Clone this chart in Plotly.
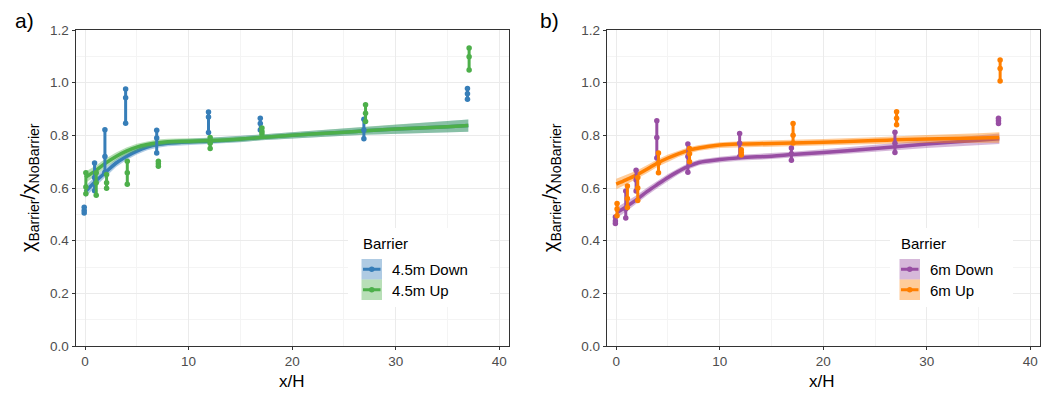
import plotly.graph_objects as go

# ---------------- data ----------------
x_pos = [0, 1, 2, 4, 7, 12, 17, 27, 37]

down45 = [[0.505, 0.515, 0.527], [0.59, 0.64, 0.695], [0.66, 0.72, 0.821],
          [0.846, 0.943, 0.976], [0.733, 0.79, 0.819], [0.811, 0.87, 0.889],
          [0.82, 0.845, 0.865], [0.787, 0.82, 0.861], [0.937, 0.958, 0.978]]
up45 = [[0.578, 0.604, 0.658], [0.572, 0.62, 0.658], [0.599, 0.62, 0.651],
        [0.614, 0.658, 0.702], [0.683, 0.692, 0.702], [0.75, 0.77, 0.792],
        [0.805, 0.815, 0.828], [0.853, 0.884, 0.916], [1.048, 1.098, 1.132]]
down6 = [[0.465, 0.475, 0.49], [0.486, 0.52, 0.589], [0.589, 0.63, 0.667],
         [0.714, 0.792, 0.855], [0.66, 0.72, 0.767], [0.72, 0.77, 0.807],
         [0.705, 0.73, 0.752], [0.735, 0.77, 0.812], [0.845, 0.855, 0.865]]
up6 = [[0.495, 0.52, 0.541], [0.526, 0.56, 0.608], [0.553, 0.6, 0.64],
       [0.658, 0.695, 0.733], [0.70, 0.73, 0.75], [0.725, 0.735, 0.745],
       [0.771, 0.80, 0.845], [0.84, 0.865, 0.89], [1.006, 1.054, 1.086]]

# smooth fits
fit_x = [0, 1, 2, 3, 4, 5, 6, 7, 8, 10, 12, 15, 17, 20, 25, 27, 30, 35, 37]
fit_down45 = [0.585, 0.625, 0.66, 0.695, 0.72, 0.74, 0.755, 0.765, 0.77, 0.775, 0.778,
              0.785, 0.792, 0.80, 0.812, 0.817, 0.824, 0.833, 0.837]
fit_up45 = [0.64, 0.665, 0.695, 0.72, 0.74, 0.755, 0.765, 0.772, 0.776, 0.778, 0.78,
            0.786, 0.792, 0.80, 0.812, 0.817, 0.824, 0.833, 0.837]
fit_down6 = [0.505, 0.53, 0.557, 0.587, 0.614, 0.64, 0.663, 0.683, 0.697, 0.708, 0.715,
             0.721, 0.727, 0.735, 0.75, 0.757, 0.767, 0.781, 0.787]
fit_up6 = [0.615, 0.632, 0.65, 0.672, 0.695, 0.714, 0.73, 0.743, 0.752, 0.763, 0.767,
           0.769, 0.771, 0.774, 0.78, 0.783, 0.786, 0.79, 0.792]
# half-width of the confidence ribbons
se_45 = [0.022, 0.019, 0.017, 0.015, 0.014, 0.013, 0.012, 0.012, 0.011, 0.011, 0.011,
         0.011, 0.011, 0.012, 0.014, 0.015, 0.017, 0.021, 0.023]
se_6 = [0.02, 0.018, 0.016, 0.015, 0.014, 0.013, 0.012, 0.012, 0.011, 0.011, 0.011,
        0.011, 0.011, 0.012, 0.013, 0.014, 0.015, 0.018, 0.02]

series_names = ["4.5m Down", "4.5m Up", "6m Down", "6m Up"]
colors = ["#377EB8", "#4DAF4A", "#984EA3", "#FF7F00"]
fills = ["rgba(55,126,184,0.4)", "rgba(77,175,74,0.4)", "rgba(152,78,163,0.4)",
         "rgba(255,127,0,0.4)"]
y_ticks = [0.0, 0.2, 0.4, 0.6, 0.8, 1.0, 1.2]
x_ticks = [0, 10, 20, 30, 40]

W, H = 1050, 402
def PX(x): return x / W
def PY(y): return 1 - y / H

fig = go.Figure()

def add_fit(xs, ys, se, col, fill, xa, ya):
    lo = [a - b for a, b in zip(ys, se)]
    hi = [a + b for a, b in zip(ys, se)]
    fig.add_trace(go.Scatter(x=xs + xs[::-1], y=hi + lo[::-1], fill="toself",
                             fillcolor=fill, line=dict(width=0), mode="lines",
                             hoverinfo="skip", showlegend=False, xaxis=xa, yaxis=ya))
    fig.add_trace(go.Scatter(x=xs, y=ys, mode="lines", line=dict(color=col, width=3.5,
                             shape="spline"), showlegend=False, xaxis=xa, yaxis=ya))

def add_points(vals, dodge, col, name, xa, ya):
    xs, ys = [], []
    for xp, trip in zip(x_pos, vals):
        for v in trip:
            xs.append(xp + dodge)
            ys.append(v)
        xs.append(None)
        ys.append(None)
    fig.add_trace(go.Scatter(x=xs, y=ys, mode="lines+markers", name=name,
                             line=dict(color=col, width=3),
                             marker=dict(color=col, size=5.5),
                             connectgaps=False, showlegend=False, xaxis=xa, yaxis=ya))

add_fit(fit_x, fit_down45, se_45, colors[0], fills[0], "x", "y")
add_fit(fit_x, fit_up45, se_45, colors[1], fills[1], "x", "y")
add_points(down45, -0.08, colors[0], series_names[0], "x", "y")
add_points(up45, 0.08, colors[1], series_names[1], "x", "y")

add_fit(fit_x, fit_down6, se_6, colors[2], fills[2], "x2", "y2")
add_fit(fit_x, fit_up6, se_6, colors[3], fills[3], "x2", "y2")
add_points(down6, -0.08, colors[2], series_names[2], "x2", "y2")
add_points(up6, 0.08, colors[3], series_names[3], "x2", "y2")

FONT = "Liberation Sans, Arial, sans-serif"
axis_common = dict(showline=True, mirror=True, linecolor="#333333", linewidth=1,
                   ticks="outside", ticklen=3, tickcolor="#333333", tickwidth=1,
                   tickfont=dict(size=13.5, color="#4D4D4D", family=FONT),
                   showgrid=True, gridcolor="#EBEBEB", gridwidth=1.1, zeroline=False,
                   automargin=False)

xr = [-0.92, 40.93]
ydom = [PY(346), PY(30)]
fig.update_layout(
    width=W, height=H, margin=dict(l=0, r=0, t=0, b=0, autoexpand=False),
    paper_bgcolor="white", plot_bgcolor="white", showlegend=False,
    font=dict(family=FONT),
    xaxis=dict(domain=[PX(75.5), PX(509)], range=xr, anchor="y", tickvals=x_ticks,
               minor=dict(tickvals=[5, 15, 25, 35], showgrid=True, gridcolor="#F4F4F4",
                          gridwidth=0.6, ticks=""), **axis_common),
    yaxis=dict(domain=ydom, range=[0, 1.2], anchor="x", tickvals=y_ticks, tickformat=".1f",
               minor=dict(tickvals=[0.1, 0.3, 0.5, 0.7, 0.9, 1.1], showgrid=True,
                          gridcolor="#F4F4F4", gridwidth=0.6, ticks=""), **axis_common),
    xaxis2=dict(domain=[PX(606.7), PX(1040)], range=xr, anchor="y2", tickvals=x_ticks,
                minor=dict(tickvals=[5, 15, 25, 35], showgrid=True, gridcolor="#F4F4F4",
                           gridwidth=0.6, ticks=""), **axis_common),
    yaxis2=dict(domain=ydom, range=[0, 1.2], anchor="x2", tickvals=y_ticks, tickformat=".1f",
                minor=dict(tickvals=[0.1, 0.3, 0.5, 0.7, 0.9, 1.1], showgrid=True,
                           gridcolor="#F4F4F4", gridwidth=0.6, ticks=""), **axis_common),
)

ann = []
shapes = []
ytitle = "χ<sub>Barrier</sub>/χ<sub>NoBarrier</sub>"

def A(text, x, y, size, xanchor="center", angle=0):
    ann.append(dict(text=text, x=PX(x), y=PY(y), xref="paper", yref="paper",
                    xanchor=xanchor, yanchor="middle", textangle=angle, showarrow=False,
                    font=dict(size=size, color="black", family=FONT)))

for lab, lx, tx, ytx in [("a)", 24, 292, 29), ("b)", 549, 822, 551)]:
    A(lab, lx, 20, 21)
    A("x/H", tx, 381, 17)
    A(ytitle, ytx, 188, 20, angle=-90)

# manual legends (ggplot style: filled ribbon key + line with point)
legends = [(348, 490, 361.5, [0, 1]), (890, 1013, 899.5, [2, 3])]
for bx0, bx1, kx, idxs in legends:
    shapes.append(dict(type="rect", xref="paper", yref="paper", x0=PX(bx0), x1=PX(bx1),
                       y0=PY(307), y1=PY(228), fillcolor="white", line=dict(width=0),
                       layer="above"))
    A("Barrier", kx - 1, 243, 15, xanchor="left")
    for j, i in enumerate(idxs):
        ty, by = 259 + 20.5 * j, 279.5 + 20.5 * j
        cy = (ty + by) / 2
        shapes.append(dict(type="rect", xref="paper", yref="paper", x0=PX(kx),
                           x1=PX(kx + 20.5), y0=PY(by), y1=PY(ty), fillcolor=fills[i],
                           line=dict(width=0), layer="above"))
        shapes.append(dict(type="line", xref="paper", yref="paper", x0=PX(kx + 1.5),
                           x1=PX(kx + 19), y0=PY(cy), y1=PY(cy),
                           line=dict(color=colors[i], width=3), layer="above"))
        shapes.append(dict(type="circle", xref="paper", yref="paper", x0=PX(kx + 7.5),
                           x1=PX(kx + 13), y0=PY(cy + 2.75), y1=PY(cy - 2.75),
                           fillcolor=colors[i], line=dict(width=0), layer="above"))
        A(series_names[i], kx + 28.5, cy + 0.5, 15, xanchor="left")

fig.update_layout(annotations=ann, shapes=shapes)
fig.write_html("out.html", config={"displayModeBar": False},
               post_script="document.body.style.margin='0';document.body.style.overflow='hidden';")
